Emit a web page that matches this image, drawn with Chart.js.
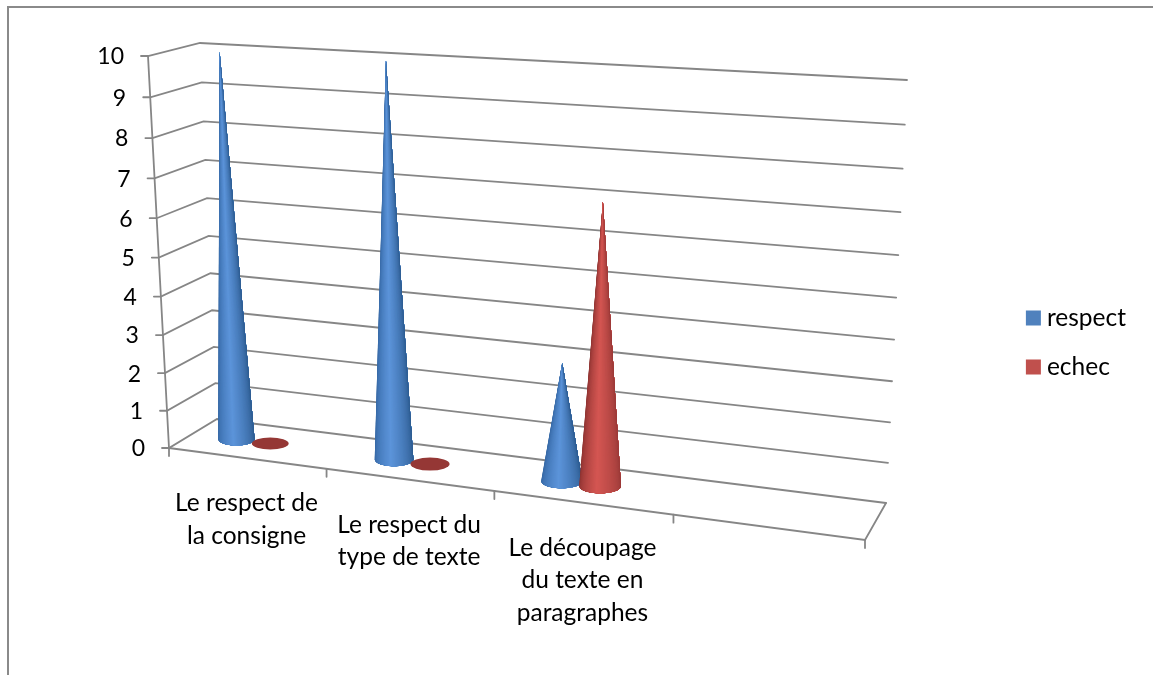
<!DOCTYPE html>
<html>
<head>
<meta charset="utf-8">
<script src="https://cdn.jsdelivr.net/npm/chart.js@4"></script>
<style>
  html, body { margin: 0; padding: 0; background: #fff; overflow: hidden; }
  #frame { position: absolute; left: 7px; top: 6px; right: -5px; bottom: -5px; border-left: 2px solid #8a8a8a; border-top: 2px solid #8a8a8a; }
  #wrap { position: absolute; left: 0; top: 0; width: 1153px; height: 675px; }
</style>
</head>
<body>
<div id="frame"></div>
<div id="wrap"><canvas id="myChart"></canvas></div>
<script>
let categories = [['Le respect de', 'la consigne'], ['Le respect du', 'type de texte'], ['Le découpage', 'du texte en', 'paragraphes'], ['']];
let seriesNames = ['respect', 'echec'];
let respect = [10, 10, 3, null];
let echec = [0, 0, 7, null];
let seriesColors = ['#4f81bd', '#c0504d'];

// cone shading, left to right round the front of the cone
let shades = [
  [[50, 100, 160], [92, 148, 218], [42, 88, 140]],
  [[135, 48, 46], [212, 86, 82], [150, 56, 54]]
];
let flatColor = '#953735';
let gridColor = '#868686';
let textFont = 'Lato';

// the 3D box as seen on the page: bottom-left, bottom-right, top-right, top-left
let frontQuad = [[169, 448], [865, 540], [888, 96], [148, 56]];
let backQuad = [[217, 419], [886, 503], [907, 80], [200, 43]];
let coneDepth = 0.5;
let coneShift = -0.026; // cones sit a little left of the category middle

function homography(q) {
  let dx1 = q[1][0] - q[2][0], dx2 = q[3][0] - q[2][0], sx = q[0][0] - q[1][0] + q[2][0] - q[3][0];
  let dy1 = q[1][1] - q[2][1], dy2 = q[3][1] - q[2][1], sy = q[0][1] - q[1][1] + q[2][1] - q[3][1];
  let det = dx1 * dy2 - dx2 * dy1;
  let g = (sx * dy2 - dx2 * sy) / det, h = (dx1 * sy - sx * dy1) / det;
  let a = q[1][0] - q[0][0] + g * q[1][0], b = q[3][0] - q[0][0] + h * q[3][0];
  let d = q[1][1] - q[0][1] + g * q[1][1], e = q[3][1] - q[0][1] + h * q[3][1];
  return (u, v) => {
    let w = g * u + h * v + 1;
    return [(a * u + b * v + q[0][0]) / w, (d * u + e * v + q[0][1]) / w];
  };
}
let front = homography(frontQuad);
let back = homography(backQuad);

// u along categories, v up the value axis, depth 0 front to 1 back
function project(u, v, depth) {
  let f = front(u, v), b = back(u, v);
  return [f[0] + (b[0] - f[0]) * depth, f[1] + (b[1] - f[1]) * depth];
}

function line(ctx, pts) {
  ctx.beginPath();
  ctx.moveTo(pts[0][0], pts[0][1]);
  for (let i = 1; i < pts.length; i++) ctx.lineTo(pts[i][0], pts[i][1]);
  ctx.stroke();
}

function shadeAt(stops, t) {
  let p = t < 0.45 ? t / 0.45 : (t - 0.45) / 0.55;
  let c0 = t < 0.45 ? stops[0] : stops[1], c1 = t < 0.45 ? stops[1] : stops[2];
  let rgb = [0, 1, 2].map(i => Math.round(c0[i] + (c1[i] - c0[i]) * p));
  return 'rgb(' + rgb.join(',') + ')';
}

// painted left to right, each slice runs on to the right end so no seams show
function drawCone(ctx, base, tip, rx, stops) {
  let ry = rx * 0.35;
  let steps = 48;
  for (let i = 0; i < steps; i++) {
    let a0 = Math.PI - Math.PI * i / steps;
    ctx.beginPath();
    ctx.moveTo(tip[0], tip[1]);
    ctx.ellipse(base[0], base[1], rx, ry, 0, a0, 0, true);
    ctx.closePath();
    ctx.fillStyle = shadeAt(stops, (i + 0.5) / steps);
    ctx.fill();
  }
}

let box3d = {
  id: 'box3d',
  beforeDatasetsDraw(chart) {
    let ctx = chart.ctx, y = chart.scales.y;
    ctx.save();
    ctx.strokeStyle = gridColor;
    ctx.lineWidth = 1.8;
    ctx.lineCap = 'round';

    // walls and value labels
    y.ticks.forEach((tick) => {
      let v = (y.bottom - y.getPixelForValue(tick.value)) / (y.bottom - y.top);
      let p0 = project(0, v, 0);
      line(ctx, [[p0[0] - 7, p0[1]], p0, project(0, v, 1), project(1, v, 1)]);
      ctx.fillStyle = '#000';
      ctx.font = '23px ' + textFont;
      ctx.textAlign = 'right';
      ctx.textBaseline = 'middle';
      ctx.fillText(String(tick.value), p0[0] - 24, p0[1] + 1);
    });

    // floor edges
    line(ctx, [project(0, 0, 0), project(0, 1, 0)]);
    line(ctx, [project(0, 0, 0), project(1, 0, 0), project(1, 0, 1)]);

    // category ticks and labels
    let n = categories.length;
    for (let i = 0; i <= n; i++) {
      let p = project(i / n, 0, 0);
      line(ctx, [p, [p[0], p[1] + 8]]);
    }
    categories.forEach((lines, i) => {
      let p = project((i + 0.5) / n, 0, 0);
      ctx.fillStyle = '#000';
      ctx.font = '24.5px ' + textFont;
      ctx.textAlign = 'center';
      ctx.textBaseline = 'middle';
      lines.forEach((txt, k) => ctx.fillText(txt, p[0], p[1] + 45 + k * 32.5));
    });
    ctx.restore();
  },
  afterDatasetsDraw(chart) {
    let ctx = chart.ctx, x = chart.scales.x, y = chart.scales.y;
    let uOf = px => (px - x.left) / (x.right - x.left) + coneShift;
    ctx.save();
    categories.forEach((c, i) => {
      chart.data.datasets.forEach((ds, s) => {
        let el = chart.getDatasetMeta(s).data[i];
        if (ds.data[i] === null) return;
        let u = uOf(el.x);
        let v = (y.bottom - el.y) / (y.bottom - y.top);
        let base = project(u, 0, coneDepth);
        let left = project(uOf(el.x - el.width / 2), 0, coneDepth);
        let right = project(uOf(el.x + el.width / 2), 0, coneDepth);
        let rx = (right[0] - left[0]) / 2;
        if (ds.data[i] === 0) {
          ctx.fillStyle = flatColor;
          ctx.beginPath();
          ctx.ellipse(base[0], base[1], rx, rx * 0.33, 0, 0, Math.PI * 2);
          ctx.fill();
        } else {
          drawCone(ctx, base, project(u, v, coneDepth), rx, shades[s]);
        }
      });
    });
    ctx.restore();
  }
};

let myChart1 = document.getElementById('myChart').getContext('2d');

let Chart1 = new Chart(myChart1, {
  type: 'bar',
  data: {
    labels: categories,
    datasets: [
      { label: seriesNames[0], data: respect, backgroundColor: 'transparent' },
      { label: seriesNames[1], data: echec, backgroundColor: 'transparent' }
    ]
  },
  options: {
    responsive: true,
    maintainAspectRatio: false,
    animation: false,
    layout: { padding: { top: 10, right: 17, left: 150, bottom: 0 } },
    datasets: { bar: { barPercentage: 1.08, categoryPercentage: 0.44 } },
    scales: {
      x: { display: false },
      y: { display: false, min: 0, max: 10, ticks: { stepSize: 1 } }
    },
    plugins: {
      tooltip: { enabled: false },
      legend: {
        position: 'right',
        labels: {
          font: { family: textFont, size: 24.5 },
          color: '#000',
          boxWidth: 2.5,
          boxHeight: 2.5,
          padding: 24.5,
          // thick border grows the swatch without moving the text away from it
          generateLabels: () => seriesNames.map((name, i) => ({
            text: name,
            fillStyle: seriesColors[i],
            strokeStyle: seriesColors[i],
            lineWidth: 12.5,
            datasetIndex: i
          }))
        }
      }
    }
  },
  plugins: [box3d]
});
</script>
</body>
</html>
